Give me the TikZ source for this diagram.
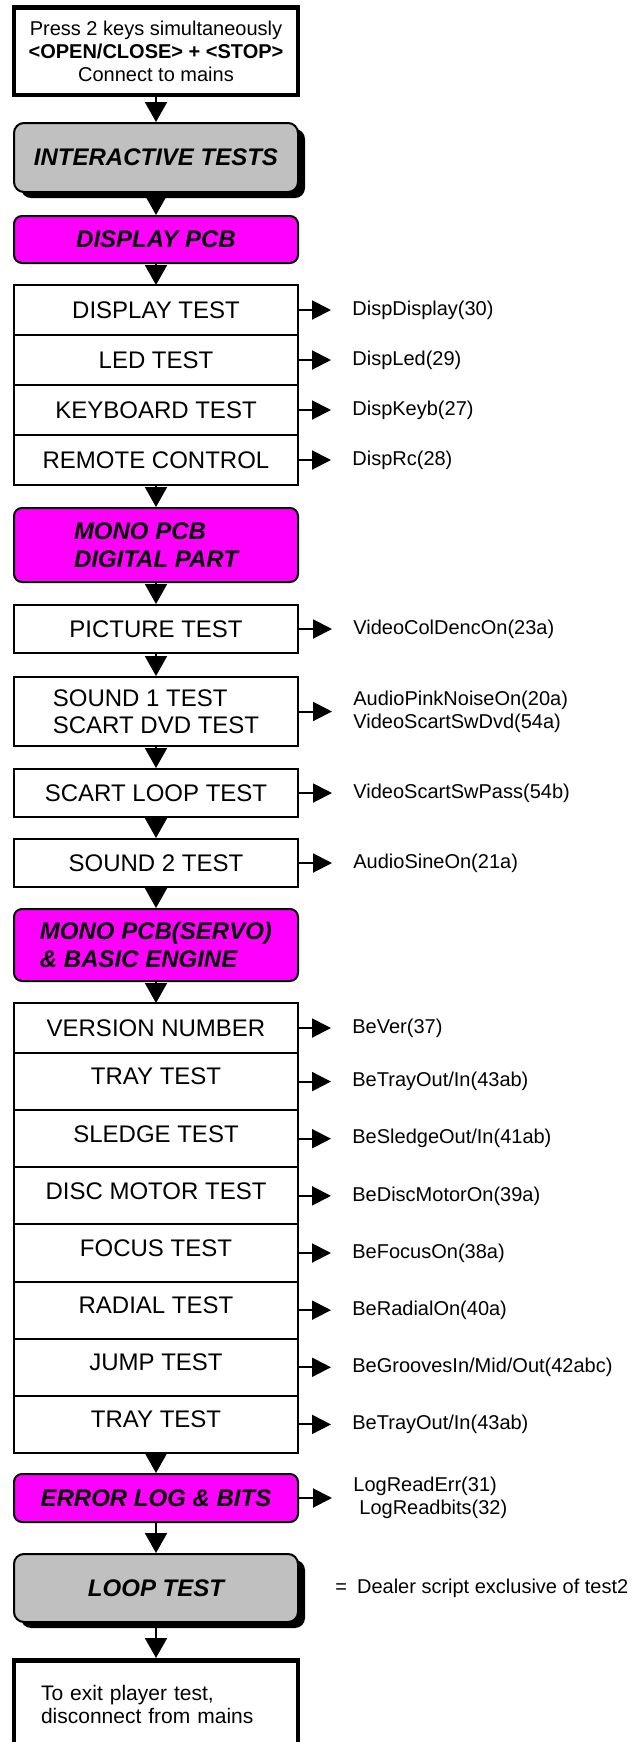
\documentclass[tikz,border=0pt]{standalone}
\usepackage{fontspec}
\setmainfont{Liberation Sans}
\usepackage{xcolor}
\usepackage{tikz}
\usetikzlibrary{arrows.meta, positioning, shadows}

\definecolor{panelgrey}{RGB}{192,192,192}
\definecolor{pcbmagenta}{RGB}{255,0,255}

\begin{document}
\begin{tikzpicture}[
    node distance=10.5pt,
    startbox/.style={draw, line width=2.25pt, fill=white, minimum width=142pt, align=center, font=\fontsize{10}{11.5}\selectfont},
    greybox/.style={draw, rounded corners=5pt, line width=1pt, fill=panelgrey, minimum width=142pt, font=\fontsize{12}{14}\selectfont\bfseries\itshape, drop shadow={shadow xshift=3.5pt, shadow yshift=-3pt, fill=black, opacity=1}},
    pcbbox/.style={draw, rounded corners=4pt, line width=1pt, fill=pcbmagenta, minimum width=142pt, minimum height=24pt, align=left, font=\fontsize{12}{14}\selectfont\bfseries\itshape},
    testbox/.style={draw, line width=1pt, fill=white, minimum width=142pt, minimum height=24pt, align=left, font=\fontsize{12}{13.5}\selectfont},
    rowbox/.style={testbox, minimum height=25pt, outer sep=0pt},
    tallbox/.style={rowbox, minimum height=28.57pt, text depth=5pt},
    cmdtext/.style={inner sep=0pt, align=left, font=\fontsize{10}{11.5}\selectfont},
    downflow/.style={-{Triangle[length=10pt, width=11pt]}, line width=1pt},
    sideflow/.style={-{Triangle[length=9.5pt, width=9.5pt]}, line width=1pt, shorten >=10.5pt}
]
\useasboundingbox (0,0) rectangle (317.5pt,-871pt);
\clip (0,0) rectangle (317.5pt,-871pt);

\node[startbox, minimum height=43.75pt] (start) at (78pt,-25.5pt) {Press 2 keys simultaneously\\\textbf{<OPEN/CLOSE> + <STOP>}\\Connect to mains};
\node[greybox, minimum height=34.5pt, below=12.5pt of start] (inter) {INTERACTIVE TESTS};
\node[pcbbox, minimum height=23.5pt, below=11pt of inter] (disp) {DISPLAY PCB};

\node[rowbox, below=of disp] (dtest) {DISPLAY TEST};
\node[rowbox, below=0pt of dtest] (led) {LED TEST};
\node[rowbox, below=0pt of led] (keyb) {KEYBOARD TEST};
\node[rowbox, below=0pt of keyb] (rc) {REMOTE CONTROL};

\node[pcbbox, minimum height=37pt, below=11pt of rc] (digital) {MONO PCB\\DIGITAL PART};
\node[testbox, below=of digital] (pict) {PICTURE TEST};
\node[testbox, minimum height=34.5pt, below=11pt of pict] (snd1) {SOUND 1 TEST\\SCART DVD TEST};
\node[testbox, below=of snd1] (scart) {SCART LOOP TEST};
\node[testbox, below=10pt of scart] (snd2) {SOUND 2 TEST};

\node[pcbbox, minimum height=36pt, below=10pt of snd2] (servo) {MONO PCB(SERVO)\\\& BASIC ENGINE};
\node[rowbox, below=of servo] (ver) {VERSION NUMBER};
\node[tallbox, below=0pt of ver] (tray) {TRAY TEST};
\node[tallbox, below=0pt of tray] (sledge) {SLEDGE TEST};
\node[tallbox, below=0pt of sledge] (disc) {DISC MOTOR TEST};
\node[tallbox, below=0pt of disc] (focus) {FOCUS TEST};
\node[tallbox, below=0pt of focus] (radial) {RADIAL TEST};
\node[tallbox, below=0pt of radial] (jump) {JUMP TEST};
\node[tallbox, below=0pt of jump] (trayb) {TRAY TEST};

\node[pcbbox, below=10pt of trayb] (errlog) {ERROR LOG \& BITS};
\node[greybox, minimum height=34pt, below=15pt of errlog] (loop) {LOOP TEST};
\node[startbox, minimum height=44pt, text width=115pt, align=left, font=\fontsize{10.5}{11.5}\selectfont, below=17.5pt of loop] (exit) {To exit player test,\\disconnect from mains};

\node[cmdtext, right=27pt of dtest] (cdisp) {DispDisplay(30)};
\node[cmdtext, right=27pt of led] (cled) {DispLed(29)};
\node[cmdtext, right=27pt of keyb] (ckeyb) {DispKeyb(27)};
\node[cmdtext, right=27pt of rc] (crc) {DispRc(28)};
\node[cmdtext, right=27pt of pict] (cpict) {VideoColDencOn(23a)};
\node[cmdtext, right=27pt of snd1] (csnd1) {AudioPinkNoiseOn(20a)\\VideoScartSwDvd(54a)};
\node[cmdtext, right=27pt of scart] (cscart) {VideoScartSwPass(54b)};
\node[cmdtext, right=27pt of snd2] (csnd2) {AudioSineOn(21a)};
\node[cmdtext, right=27pt of ver] (cver) {BeVer(37)};
\node[cmdtext, right=27pt of tray] (ctray) {BeTrayOut/In(43ab)};
\node[cmdtext, right=27pt of sledge] (csledge) {BeSledgeOut/In(41ab)};
\node[cmdtext, right=27pt of disc] (cdisc) {BeDiscMotorOn(39a)};
\node[cmdtext, right=27pt of focus] (cfocus) {BeFocusOn(38a)};
\node[cmdtext, right=27pt of radial] (cradial) {BeRadialOn(40a)};
\node[cmdtext, right=27pt of jump] (cjump) {BeGroovesIn/Mid/Out(42abc)};
\node[cmdtext, right=27pt of trayb] (ctrayb) {BeTrayOut/In(43ab)};
\node[cmdtext, right=27pt of errlog] (clog) {LogReadErr(31)\\\hspace*{3pt}LogReadbits(32)};
\node[cmdtext, right=18pt of loop] (dealer) {=\enspace Dealer script exclusive of test2};

\draw[downflow] (start) -- (inter);
\draw[downflow] (inter) -- (disp);
\draw[downflow] (disp) -- (dtest);
\draw[downflow] (rc) -- (digital);
\draw[downflow] (digital) -- (pict);
\draw[downflow] (pict) -- (snd1);
\draw[downflow] (snd1) -- (scart);
\draw[downflow] (scart) -- (snd2);
\draw[downflow] (snd2) -- (servo);
\draw[downflow] (servo) -- (ver);
\draw[downflow] (trayb) -- (errlog);
\draw[downflow] (errlog) -- (loop);
\draw[downflow] (loop) -- (exit);

\foreach \from/\to in {dtest/cdisp, led/cled, keyb/ckeyb, rc/crc, pict/cpict, snd1/csnd1, scart/cscart, snd2/csnd2, ver/cver, tray/ctray, sledge/csledge, disc/cdisc, focus/cfocus, radial/cradial, jump/cjump, trayb/ctrayb, errlog/clog}
    \draw[sideflow] (\from) -- (\to);
\end{tikzpicture}
\end{document}
